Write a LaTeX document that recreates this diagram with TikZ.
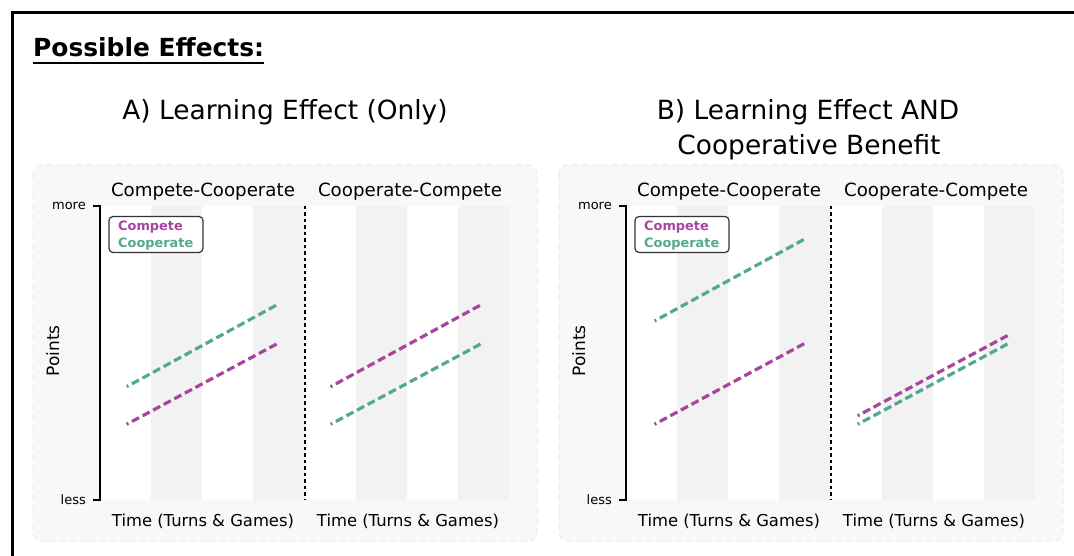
\documentclass[tikz,border=0pt]{standalone}
\usepackage{fontspec}
\setmainfont{DejaVu Sans}
\definecolor{cpurple}{HTML}{A5479F}
\definecolor{cteal}{HTML}{52A993}
\definecolor{panelbg}{HTML}{F8F8F8}
\definecolor{stripe}{HTML}{F2F2F2}
\definecolor{panelborder}{HTML}{EBEBEB}
\definecolor{legendborder}{HTML}{333333}
\tikzset{
  panelbox/.style={fill=panelbg, draw=panelborder, dash pattern=on 6pt off 4pt, rounded corners=9pt, line width=1pt},
  dataline/.style={line width=3.2pt, dash pattern=on 8pt off 4pt, dash phase=6pt},
  sepline/.style={line width=2.4pt, dash pattern=on 3.5pt off 3pt},
  axisline/.style={line width=2.2pt, line join=miter},
  legendbox/.style={draw=legendborder, fill=white, rounded corners=4pt, line width=1.2pt, minimum width=94pt, minimum height=36pt, inner sep=0pt},
  bigtitle/.style={font=\fontsize{26.4}{35}\selectfont, anchor=base, align=center},
  facettitle/.style={font=\fontsize{18.2}{22}\selectfont, anchor=base},
  xlabel/.style={font=\fontsize{16.4}{20}\selectfont, anchor=base},
  ticklabel/.style={font=\fontsize{13}{16}\selectfont, anchor=east, inner sep=0pt},
  ylabel/.style={font=\fontsize{17}{20}\selectfont, anchor=base, rotate=90},
  legendtext/.style={font=\fontsize{12.9}{16}\selectfont\bfseries, anchor=base west, inner sep=0pt},
}
\begin{document}
\begin{tikzpicture}[x=1pt,y=-1pt]
\useasboundingbox (0,0) rectangle (1074,556);
\fill[white] (0,0) rectangle (1074,556);
% outer frame (cropped)
\coordinate (frameBL) at (12,560);
\coordinate (frameTL) at (12,13);
\coordinate (frameTR) at (1080,13);
\draw[line width=3pt] (frameBL) -- (frameTL) -- (frameTR);
% heading
\node[font=\fontsize{24.9}{30}\selectfont\bfseries, anchor=base west, inner sep=0pt] (heading) at (33,56.7) {Possible Effects:};
\draw[line width=2pt] (heading.west |- 0,63.5) -- (heading.east |- 0,63.5);
% panel titles
\node[bigtitle] (titleA) at (285,120) {A) Learning Effect (Only)};
\node[bigtitle] (titleB1) at (808,120) {B) Learning Effect AND};
\node[bigtitle] (titleB2) at (809,155) {Cooperative Benefit};
% panels
\foreach \p/\o in {A/0,B/526}{
  \path[panelbox] (33+\o,165) rectangle (537+\o,541);
  \fill[white] (100+\o,206) rectangle (509+\o,500);
  \foreach \i in {1,3,5,7}{
    \fill[stripe] (100+\o+\i*51.125,206) rectangle (100+\o+\i*51.125+51.125,500);
  }
  \coordinate (sepT\p) at (305+\o,206);
  \coordinate (sepB\p) at (305+\o,500);
  \draw[sepline] (sepT\p) -- (sepB\p);
  \coordinate (axT\p) at (100+\o,206);
  \coordinate (axB\p) at (100+\o,500);
  \coordinate (tkT\p) at (93+\o,206);
  \coordinate (tkB\p) at (93+\o,500);
  \draw[axisline] (tkT\p) -- (axT\p) -- (axB\p) -- (tkB\p);
  \node[ticklabel] (more\p) at (86+\o,205.5) {more};
  \node[ticklabel] (less\p) at (86+\o,499.5) {less};
  \node[ylabel] (points\p) at (59+\o,351) {Points};
  \node[facettitle] (ftL\p) at (203+\o,196.7) {Compete-Cooperate};
  \node[facettitle] (ftR\p) at (410+\o,196.7) {Cooperate-Compete};
  \node[xlabel] (xlL\p) at (203+\o,526.7) {Time (Turns \& Games)};
  \node[xlabel] (xlR\p) at (408+\o,526.7) {Time (Turns \& Games)};
  \node[legendbox] (leg\p) at (156+\o,234.5) {};
  \node[legendtext, text=cpurple] (legC\p) at (118+\o,231) {Compete};
  \node[legendtext, text=cteal] (legK\p) at (118+\o,248) {Cooperate};
}
% data lines panel A
\coordinate (a1s) at (126.7,386.7); \coordinate (a1e) at (278,304.3);
\coordinate (a2s) at (126.7,424.3); \coordinate (a2e) at (278,343.3);
\coordinate (a3s) at (330.6,386.7); \coordinate (a3e) at (482,304.3);
\coordinate (a4s) at (330.6,424.3); \coordinate (a4e) at (482,343.3);
\draw[dataline, cteal] (a1s) -- (a1e);
\draw[dataline, cpurple] (a2s) -- (a2e);
\draw[dataline, cpurple] (a3s) -- (a3e);
\draw[dataline, cteal] (a4s) -- (a4e);
% data lines panel B
\coordinate (b1s) at (654.5,321); \coordinate (b1e) at (806,238.3);
\coordinate (b2s) at (654.5,424.3); \coordinate (b2e) at (806,342.7);
\coordinate (b3s) at (857.7,415.7); \coordinate (b3e) at (1009.9,334.3);
\coordinate (b4s) at (857.7,424.3); \coordinate (b4e) at (1009.9,342.7);
\draw[dataline, cteal] (b1s) -- (b1e);
\draw[dataline, cpurple] (b2s) -- (b2e);
\draw[dataline, cteal] (b4s) -- (b4e);
\draw[dataline, cpurple] (b3s) -- (b3e);
\end{tikzpicture}
\end{document}
